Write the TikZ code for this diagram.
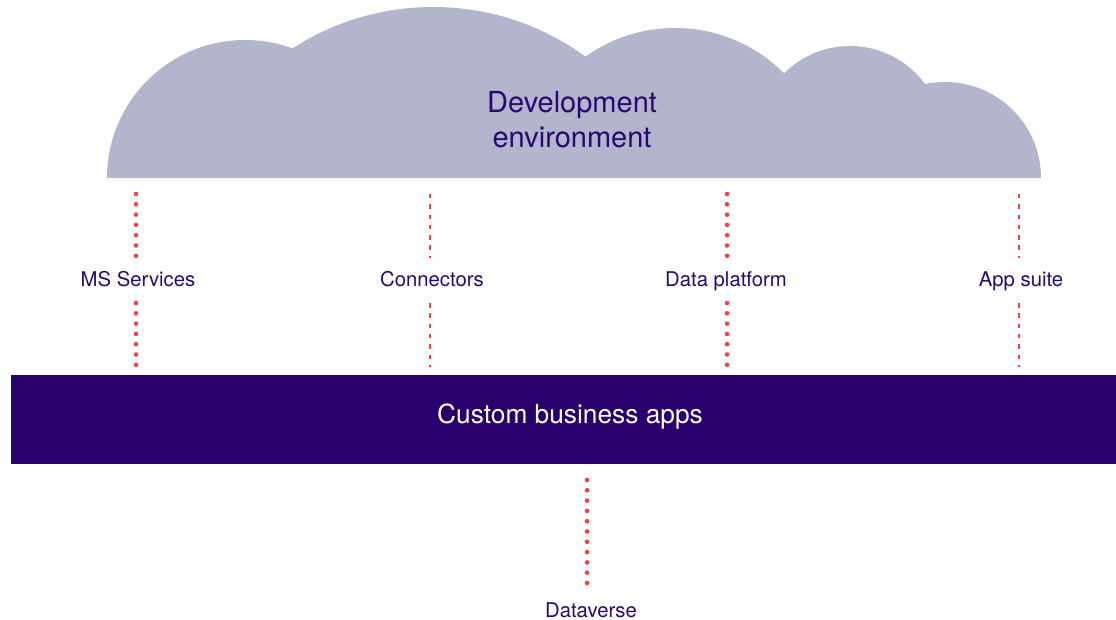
\documentclass[tikz,border=0pt]{standalone}
\usepackage{fontspec}
\setmainfont{TeX Gyre Heros}
\definecolor{cloudc}{HTML}{B3B5CD}
\definecolor{inkc}{HTML}{2A0872}
\definecolor{barc}{HTML}{29006C}
\definecolor{dotc}{HTML}{F2413F}
\begin{document}
\begin{tikzpicture}[x=1pt,y=-1pt,
  lbl/.style={inner sep=0pt,anchor=base,text=inkc,font=\fontsize{20.3}{24}\selectfont},
  dotline/.style={draw=dotc,line width=4.6pt,line cap=round,dash pattern=on 0pt off 10.3pt},
  dashline/.style={draw=dotc,line width=2.4pt,dash pattern=on 4.5pt off 5.8pt}]
\useasboundingbox (0,0) rectangle (1116,620);
% cloud
\begin{scope}
  \clip (0,0) rectangle (1116,178);
  \fill[cloudc] (245,178) circle[radius=138];
  \fill[cloudc] (433,266) circle[radius=259];
  \fill[cloudc] (675,182) circle[radius=154];
  \fill[cloudc] (850,139) circle[radius=93];
  \fill[cloudc] (945,178) circle[radius=96];
  \fill[cloudc] (250,110) rectangle (950,178);
\end{scope}
\node[inner sep=0pt,anchor=base,text=inkc,font=\fontsize{29}{35}\selectfont] (dev1) at (572,113) {Development};
\node[inner sep=0pt,anchor=base,text=inkc,font=\fontsize{29}{35}\selectfont] (dev2) at (572,148) {environment};
% bar
\fill[barc] (11,375) rectangle (1116,464);
\node[inner sep=0pt,anchor=base,text=white,font=\fontsize{26.3}{30}\selectfont] (apps) at (570,423) {Custom business apps};
% labels
\node[lbl] (ms) at (138,287) {MS Services};
\node[lbl] (con) at (432,287) {Connectors};
\node[lbl] (dp) at (726,287) {Data platform};
\node[lbl] (as) at (1021,287) {App suite};
\node[lbl] (dv) at (591,617) {Dataverse};
% coordinates
\coordinate (ms-a) at (136,194); \coordinate (ms-b) at (136,256);
\coordinate (ms-c) at (136,303); \coordinate (ms-d) at (136,365);
\coordinate (con-a) at (430,194); \coordinate (con-b) at (430,258);
\coordinate (con-c) at (430,303); \coordinate (con-d) at (430,367);
\coordinate (dp-a) at (727,194); \coordinate (dp-b) at (727,256);
\coordinate (dp-c) at (727,303); \coordinate (dp-d) at (727,365);
\coordinate (as-a) at (1019,194); \coordinate (as-b) at (1019,258);
\coordinate (as-c) at (1019,303); \coordinate (as-d) at (1019,367);
\coordinate (dv-a) at (587,480); \coordinate (dv-b) at (587,583);
\draw[dotline] (ms-a) -- (ms-b);
\draw[dotline] (ms-c) -- (ms-d);
\draw[dashline] (con-a) -- (con-b);
\draw[dashline] (con-c) -- (con-d);
\draw[dotline] (dp-a) -- (dp-b);
\draw[dotline] (dp-c) -- (dp-d);
\draw[dashline] (as-a) -- (as-b);
\draw[dashline] (as-c) -- (as-d);
\draw[dotline] (dv-a) -- (dv-b);
\end{tikzpicture}
\end{document}
